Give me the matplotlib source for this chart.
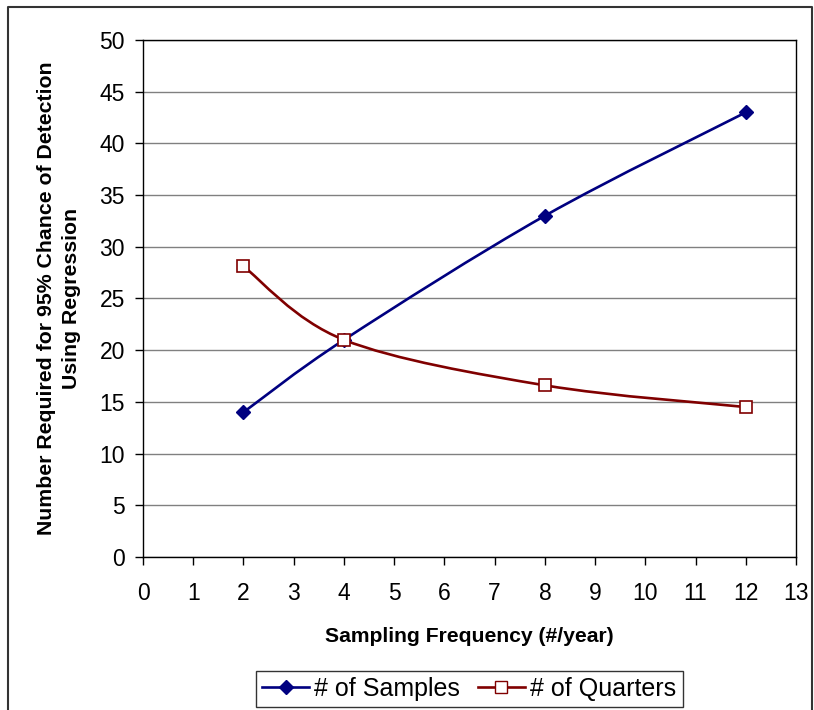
import numpy as np
import matplotlib
matplotlib.use("Agg")
import matplotlib.pyplot as plt
from matplotlib.path import Path
from matplotlib.patches import PathPatch
from matplotlib.lines import Line2D

plt.rcParams['font.family'] = ['Liberation Sans', 'DejaVu Sans']

freq = [2, 4, 8, 12]
samples = [14, 21, 33, 43]
quarters = [28.1, 21, 16.6, 14.5]

x_ticks = list(range(0, 14))
y_ticks = list(range(0, 51, 5))

navy = '#000080'
maroon = '#800000'


def smooth_path(xs, ys):
    """Cubic Bezier spline through the points, like a spreadsheet's smoothed line."""
    pts = np.column_stack([xs, ys]).astype(float)
    n = len(pts)
    verts = [pts[0]]
    codes = [Path.MOVETO]
    for i in range(n - 1):
        p0 = pts[i - 1] if i > 0 else pts[i]
        p1 = pts[i]
        p2 = pts[i + 1]
        p3 = pts[i + 2] if i + 2 < n else pts[i + 1]
        c1 = p1 + (p2 - p0) / 6.0
        c2 = p2 - (p3 - p1) / 6.0
        verts += [c1, c2, p2]
        codes += [Path.CURVE4] * 3
    return Path(verts, codes)


fig = plt.figure(figsize=(8.14, 7.10), dpi=100)
ax = fig.add_axes([0.1757, 0.2155, 0.8023, 0.7282])

ax.set_xlim(0, 13)
ax.set_ylim(0, 50)
ax.set_xticks(x_ticks)
ax.set_yticks(y_ticks)
ax.tick_params(axis='both', direction='out', length=6, width=1, labelsize=16.5)
ax.tick_params(axis='y', pad=7)
ax.tick_params(axis='x', pad=12)
ax.yaxis.grid(True, color='#808080', linewidth=1)
ax.set_axisbelow(True)
for s in ax.spines.values():
    s.set_color('black')
    s.set_linewidth(1)

for xs, ys, col in [(freq, samples, navy), (freq, quarters, maroon)]:
    ax.add_patch(PathPatch(smooth_path(xs, ys), facecolor='none', edgecolor=col,
                           linewidth=1.9, zorder=3))

ax.plot(freq, samples, linestyle='none', marker='D', markersize=7.5,
        color=navy, markeredgecolor=navy, zorder=4)
ax.plot(freq, quarters, linestyle='none', marker='s', markersize=8.5,
        markerfacecolor='white', markeredgecolor=maroon, markeredgewidth=1.2, zorder=4)

ax.set_xlabel('Sampling Frequency (#/year)', fontsize=15.2, fontweight='bold', labelpad=16)
ax.set_ylabel('Number Required for 95% Chance of Detection\nUsing Regression',
              fontsize=15.3, fontweight='bold', labelpad=13, linespacing=1.45)

handles = [
    Line2D([], [], color=navy, linewidth=1.9, marker='D', markersize=7.5),
    Line2D([], [], color=maroon, linewidth=1.9, marker='s', markersize=8.5,
           markerfacecolor='white', markeredgecolor=maroon),
]
leg = fig.legend(handles, ['# of Samples', '# of Quarters'], loc='center',
                 bbox_to_anchor=(469 / 814, 1 - 689 / 710), ncol=2, fontsize=18,
                 frameon=True, fancybox=False, edgecolor='black', handlelength=1.9,
                 handletextpad=0.2, columnspacing=0.7, borderpad=0.25,
                 borderaxespad=0)
leg.get_frame().set_linewidth(1)

# outer chart border (left, top and right edges)
bx0, bx1, by1 = 8 / 814, 812 / 814, 1 - 7 / 710
fig.add_artist(Line2D([bx0, bx0, bx1, bx1], [0, by1, by1, 0], transform=fig.transFigure,
                      color='#333333', linewidth=1.5))

fig.savefig('out.png', dpi=100)
